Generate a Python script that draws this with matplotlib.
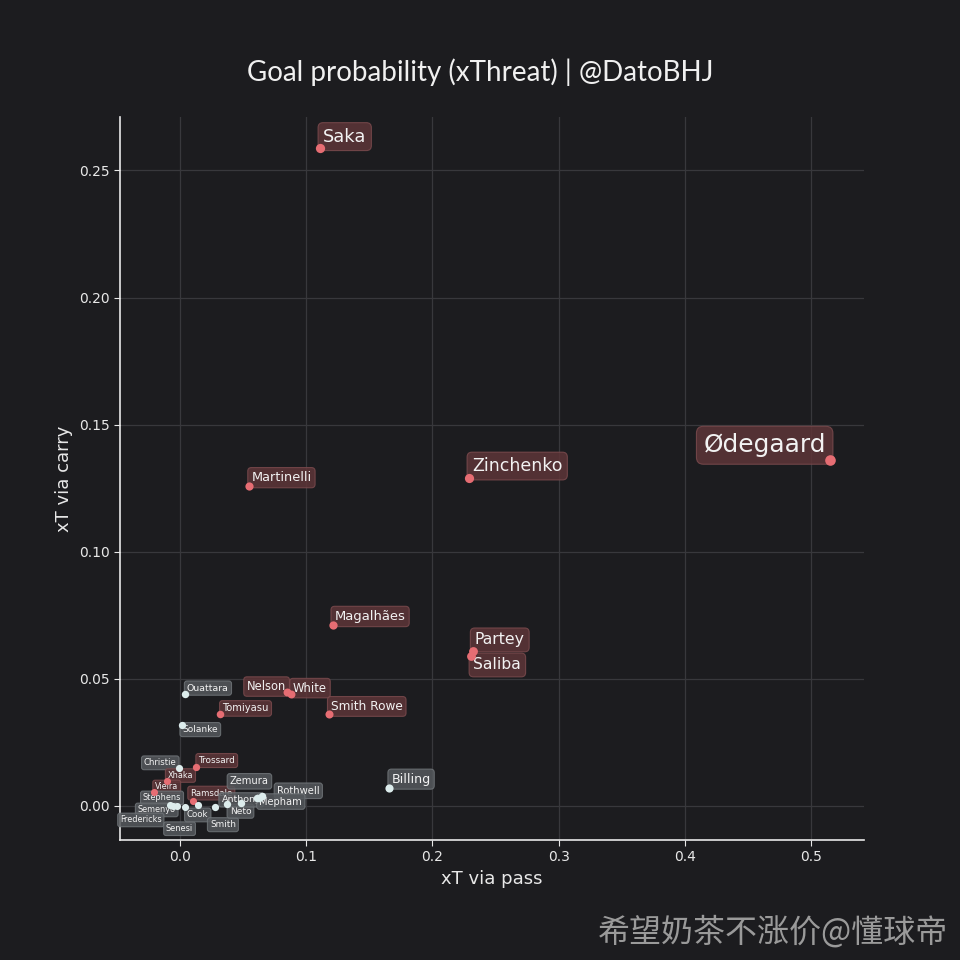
import matplotlib
matplotlib.use("Agg")
import matplotlib.pyplot as plt
import numpy as np

# ---- data ----
players = ["Saka", "Ødegaard", "Zinchenko", "Martinelli", "Magalhães", "Partey", "Saliba",
           "Nelson", "White", "Smith Rowe", "Tomiyasu", "Ouattara", "Solanke", "Billing",
           "Christie", "Trossard", "Xhaka", "Vieira", "Ramsdale", "Stephens", "Semenyo",
           "Fredericks", "Senesi", "Cook", "Smith", "Neto", "Anthony", "Zemura", "Rothwell",
           "Mepham"]
xt_pass = [0.111, 0.515, 0.229, 0.055, 0.121, 0.232, 0.231,
           0.085, 0.088, 0.118, 0.032, 0.004, 0.002, 0.166,
           -0.001, 0.013, -0.0105, -0.0205, 0.0105, -0.008, -0.0026,
           -0.0055, 0.004, 0.0143, 0.0277, 0.037, 0.048, 0.061, 0.065,
           0.063]
xt_carry = [0.259, 0.136, 0.129, 0.126, 0.071, 0.061, 0.059,
            0.045, 0.044, 0.036, 0.036, 0.044, 0.032, 0.007,
            0.015, 0.0155, 0.010, 0.0055, 0.0019, 0.0004, 0.0,
            0.0, -0.0003, 0.0004, -0.0003, 0.0007, 0.0012, 0.003, 0.004,
            0.0033]
arsenal = ["Saka", "Ødegaard", "Zinchenko", "Martinelli", "Magalhães", "Partey", "Saliba",
           "Nelson", "White", "Smith Rowe", "Tomiyasu", "Trossard", "Xhaka", "Vieira", "Ramsdale"]

# ---- label placement (styling, offsets in pixels) ----
offsets = {
    "Saka": (3, 11, "left"), "Ødegaard": (-4, 15, "right"), "Zinchenko": (3, 12, "left"),
    "Martinelli": (2, 8, "left"), "Magalhães": (2, 9, "left"), "Partey": (2, 11, "left"),
    "Saliba": (2, -9, "left"), "Nelson": (-1, 5, "right"), "White": (2, 6, "left"),
    "Smith Rowe": (2, 8, "left"), "Tomiyasu": (2, 6, "left"), "Ouattara": (2, 6, "left"),
    "Solanke": (0, -5, "left"), "Billing": (2, 9, "left"), "Christie": (-2, 5, "right"),
    "Trossard": (2, 6, "left"), "Xhaka": (1, 5, "left"), "Vieira": (1, 5, "left"),
    "Ramsdale": (-3, 8, "left"), "Stephens": (-27, 7, "left"), "Semenyo": (-39, -4, "left"),
    "Fredericks": (-53, -14, "left"), "Senesi": (-19, -22, "left"), "Cook": (-11, -10, "left"),
    "Smith": (-5, -18, "left"), "Neto": (3, -7, "left"), "Anthony": (-19, 3, "left"),
    "Zemura": (-27, 17, "left"), "Rothwell": (15, 5, "left"), "Mepham": (0, -4, "left"),
}

BG = "#1c1c1f"
RED = "#e66d73"
LIGHT = "#dcecec"

fig = plt.figure(figsize=(9.6, 9.6), dpi=100, facecolor=BG)
ax = fig.add_axes([0.125, 0.125, 0.775, 0.753], facecolor=BG)

for name, x, y in zip(players, xt_pass, xt_carry):
    tot = x + y
    is_ars = name in arsenal
    col = RED if is_ars else LIGHT
    ax.scatter([x], [y], s=26 + 50 * max(tot, 0), color=col, zorder=5, linewidths=0)

for name, x, y in zip(players, xt_pass, xt_carry):
    tot = x + y
    is_ars = name in arsenal
    fs = 5.9 + 18.5 * max(tot, 0)
    dx, dy, ha = offsets[name]
    fc = "#5e3538" if is_ars else "#55595d"
    ec = "#7a4a4d" if is_ars else "#6f7478"
    ax.annotate(name, (x, y), xytext=(dx, dy), textcoords="offset pixels",
                ha=ha, va="center", fontsize=fs, color="#f2f2f2", zorder=4,
                bbox=dict(boxstyle="round,pad=0.28", fc=fc, ec=ec, lw=0.8, alpha=0.85))

ax.set_xlim(-0.0475, 0.542)
ax.set_ylim(-0.0134, 0.271)
ax.set_xticks([0.0, 0.1, 0.2, 0.3, 0.4, 0.5])
ax.set_yticks([0.0, 0.05, 0.10, 0.15, 0.20, 0.25])
ax.set_yticklabels(["0.00", "0.05", "0.10", "0.15", "0.20", "0.25"])
ax.grid(True, color="#38383c", lw=0.9)
ax.set_axisbelow(True)
for s in ["top", "right"]:
    ax.spines[s].set_visible(False)
for s in ["left", "bottom"]:
    ax.spines[s].set_color("#e8e8e8")
    ax.spines[s].set_linewidth(1.2)
ax.tick_params(colors="#e8e8e8", labelsize=10, length=4)
ax.set_xlabel("xT via pass", color="#e8e8e8", fontsize=13)
ax.set_ylabel("xT via carry", color="#e8e8e8", fontsize=13)

fig.text(0.5, 0.925, "Goal probability (xThreat) | @DatoBHJ", ha="center", va="center",
         color="#f0f0f0", fontsize=20, family="Lato")
fig.text(0.988, 0.029, "希望奶茶不涨价@懂球帝", ha="right", va="center", color="#9a9a9a",
         fontsize=23, family=["Noto Sans CJK SC", "DejaVu Sans"])

fig.savefig("out.png", dpi=100, facecolor=BG)
